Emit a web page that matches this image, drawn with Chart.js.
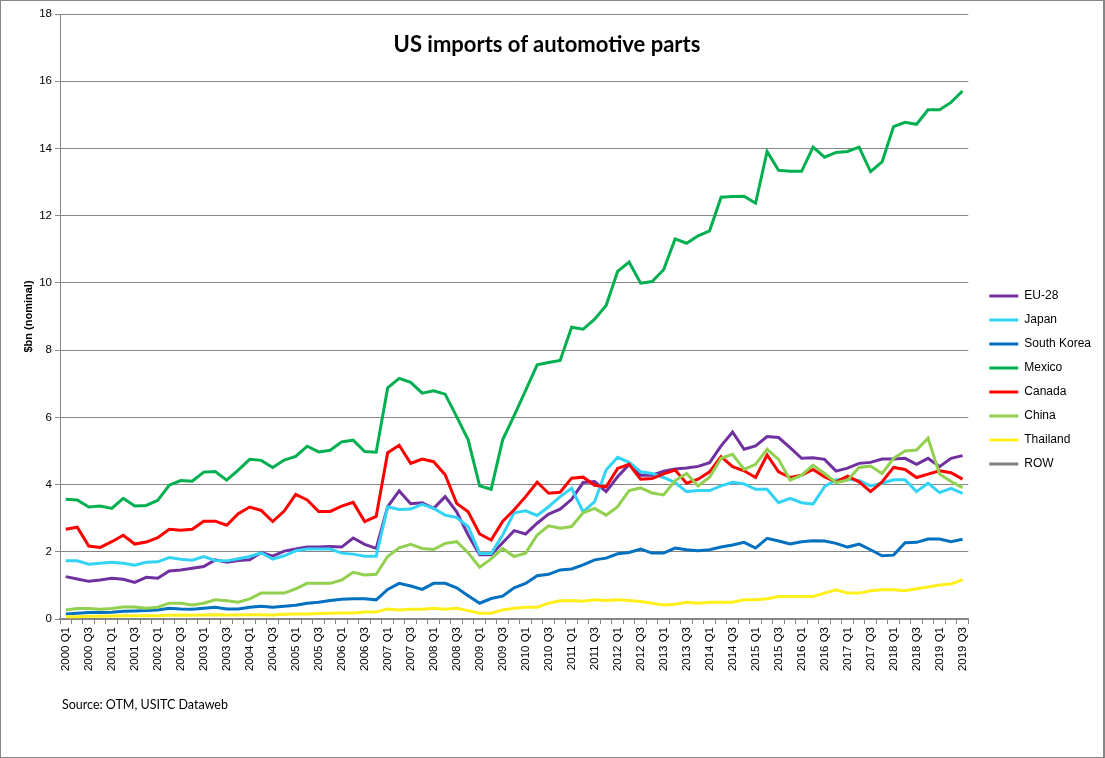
<!DOCTYPE html>
<html>
<head>
<meta charset="utf-8">
<script src="https://cdn.jsdelivr.net/npm/chart.js@4.4.1/dist/chart.umd.min.js"></script>
<style>
  html, body { margin: 0; padding: 0; background: #fff; }
  #wrap { position: relative; width: 1105px; height: 758px; }
  #wrap canvas { position: absolute; left: 0; top: 0; }
  #frame {
    position: absolute; left: 0; top: 0; width: 1105px; height: 758px;
    box-sizing: border-box; border: 1px solid #868686; border-right-width: 2px;
    pointer-events: none;
  }
  #title {
    position: absolute; left: 0; top: 30px; width: 1094px; text-align: center;
    font: bold 22px Lato, "Liberation Sans", sans-serif; color: #000;
  }
  #source {
    position: absolute; left: 62px; top: 697px;
    font: 12.5px Lato, "Liberation Sans", sans-serif; color: #000;
  }
</style>
</head>
<body>
<div id="wrap">
  <canvas id="chart" width="1105" height="758"></canvas>
  <div id="title">US imports of automotive parts</div>
  <div id="source">Source: OTM, USITC Dataweb</div>
  <div id="frame"></div>
</div>
<script>
// quarters 2000 Q1 .. 2019 Q3
const years = [2000, 2001, 2002, 2003, 2004, 2005, 2006, 2007, 2008, 2009,
               2010, 2011, 2012, 2013, 2014, 2015, 2016, 2017, 2018, 2019];
const quarters = [];
years.forEach(y => {
    ["Q1", "Q2", "Q3", "Q4"].forEach(q => {
        if (y === 2019 && q === "Q4") return;
        quarters.push(`${y} ${q}`);
    });
});

const yTicks = [0, 2, 4, 6, 8, 10, 12, 14, 16, 18];

const eu28 = [
    1.26, 1.19, 1.12, 1.16, 1.21, 1.18, 1.09, 1.24, 1.21, 1.43, 1.46, 1.51, 1.56, 1.76, 1.69, 1.74,
    1.76, 1.98, 1.87, 2.02, 2.08, 2.14, 2.14, 2.16, 2.14, 2.41, 2.22, 2.10, 3.34, 3.81, 3.43, 3.46,
    3.29, 3.64, 3.19, 2.50, 1.91, 1.91, 2.27, 2.63, 2.53, 2.85, 3.12, 3.27, 3.56, 4.06, 4.09, 3.79,
    4.23, 4.60, 4.28, 4.28, 4.40, 4.46, 4.49, 4.54, 4.65, 5.15, 5.56, 5.05, 5.15, 5.43, 5.40, 5.10,
    4.78, 4.80, 4.75, 4.40, 4.49, 4.63, 4.66, 4.76, 4.76, 4.78, 4.60, 4.78, 4.53, 4.78, 4.86
];

const japan = [
    1.73, 1.73, 1.63, 1.66, 1.69, 1.66, 1.60, 1.69, 1.70, 1.83, 1.78, 1.75, 1.86, 1.74, 1.73, 1.79,
    1.86, 1.97, 1.78, 1.88, 2.03, 2.08, 2.08, 2.08, 1.96, 1.93, 1.87, 1.87, 3.34, 3.26, 3.27, 3.41,
    3.29, 3.09, 3.02, 2.75, 1.95, 1.95, 2.50, 3.16, 3.22, 3.08, 3.34, 3.64, 3.89, 3.19, 3.49, 4.43,
    4.81, 4.66, 4.38, 4.33, 4.21, 4.06, 3.79, 3.82, 3.82, 3.96, 4.07, 4.02, 3.86, 3.86, 3.46, 3.59,
    3.46, 3.42, 3.94, 4.14, 4.16, 4.12, 3.96, 4.04, 4.14, 4.14, 3.79, 4.04, 3.76, 3.89, 3.74
];

const southKorea = [
    0.15, 0.17, 0.19, 0.19, 0.20, 0.23, 0.24, 0.25, 0.27, 0.32, 0.30, 0.29, 0.32, 0.35, 0.30, 0.30,
    0.35, 0.38, 0.35, 0.38, 0.41, 0.47, 0.50, 0.55, 0.59, 0.60, 0.60, 0.57, 0.88, 1.06, 0.98, 0.88,
    1.06, 1.06, 0.93, 0.69, 0.47, 0.61, 0.68, 0.93, 1.06, 1.29, 1.33, 1.46, 1.49, 1.61, 1.76, 1.81,
    1.94, 1.98, 2.08, 1.96, 1.96, 2.11, 2.06, 2.03, 2.06, 2.14, 2.20, 2.28, 2.11, 2.40, 2.32, 2.23,
    2.30, 2.33, 2.32, 2.25, 2.14, 2.23, 2.06, 1.88, 1.90, 2.27, 2.28, 2.38, 2.38, 2.30, 2.37
];

const mexico = [
    3.56, 3.54, 3.33, 3.36, 3.29, 3.59, 3.36, 3.38, 3.53, 3.98, 4.12, 4.10, 4.37, 4.39, 4.13, 4.43,
    4.75, 4.72, 4.51, 4.73, 4.84, 5.14, 4.97, 5.02, 5.27, 5.32, 4.98, 4.96, 6.88, 7.16, 7.04, 6.72,
    6.79, 6.69, 6.02, 5.33, 3.96, 3.86, 5.33, 6.05, 6.80, 7.56, 7.63, 7.69, 8.68, 8.62, 8.92, 9.33,
    10.34, 10.62, 9.99, 10.04, 10.39, 11.31, 11.18, 11.40, 11.55, 12.55, 12.57, 12.58, 12.37, 13.91, 13.35, 13.32,
    13.32, 14.04, 13.74, 13.88, 13.91, 14.04, 13.31, 13.60, 14.65, 14.78, 14.72, 15.15, 15.15, 15.37, 15.71
];

const canada = [
    2.67, 2.73, 2.17, 2.13, 2.30, 2.49, 2.23, 2.29, 2.42, 2.67, 2.64, 2.67, 2.91, 2.91, 2.79, 3.13,
    3.33, 3.23, 2.90, 3.21, 3.71, 3.54, 3.20, 3.20, 3.36, 3.47, 2.90, 3.05, 4.95, 5.17, 4.63, 4.76,
    4.68, 4.29, 3.44, 3.19, 2.53, 2.35, 2.90, 3.25, 3.64, 4.07, 3.74, 3.77, 4.19, 4.22, 3.98, 3.93,
    4.48, 4.60, 4.16, 4.18, 4.32, 4.43, 4.04, 4.16, 4.38, 4.83, 4.53, 4.41, 4.21, 4.88, 4.38, 4.21,
    4.28, 4.45, 4.23, 4.08, 4.25, 4.08, 3.79, 4.08, 4.51, 4.45, 4.21, 4.31, 4.41, 4.35, 4.16
];

const china = [
    0.27, 0.31, 0.31, 0.29, 0.31, 0.36, 0.36, 0.32, 0.35, 0.47, 0.47, 0.42, 0.47, 0.57, 0.54, 0.50,
    0.60, 0.77, 0.77, 0.77, 0.90, 1.06, 1.06, 1.06, 1.16, 1.39, 1.31, 1.33, 1.86, 2.12, 2.22, 2.10,
    2.07, 2.25, 2.30, 1.97, 1.54, 1.79, 2.10, 1.86, 1.96, 2.50, 2.77, 2.70, 2.75, 3.16, 3.29, 3.09,
    3.34, 3.82, 3.90, 3.75, 3.69, 4.12, 4.33, 3.96, 4.22, 4.78, 4.90, 4.45, 4.60, 5.05, 4.75, 4.13,
    4.28, 4.58, 4.33, 4.06, 4.13, 4.51, 4.55, 4.33, 4.78, 5.00, 5.03, 5.38, 4.31, 4.09, 3.91
];

const thailand = [
    0.07, 0.07, 0.08, 0.08, 0.09, 0.10, 0.10, 0.10, 0.10, 0.11, 0.12, 0.11, 0.12, 0.13, 0.12, 0.12,
    0.13, 0.13, 0.12, 0.14, 0.15, 0.15, 0.16, 0.17, 0.18, 0.18, 0.21, 0.21, 0.30, 0.27, 0.29, 0.29,
    0.32, 0.29, 0.32, 0.25, 0.17, 0.17, 0.27, 0.32, 0.35, 0.35, 0.47, 0.54, 0.55, 0.53, 0.57, 0.55,
    0.57, 0.55, 0.52, 0.47, 0.42, 0.44, 0.50, 0.47, 0.50, 0.50, 0.50, 0.57, 0.57, 0.60, 0.67, 0.67,
    0.67, 0.67, 0.77, 0.87, 0.77, 0.77, 0.84, 0.87, 0.87, 0.84, 0.90, 0.95, 1.01, 1.04, 1.17
];

// ROW is listed in the legend but has no visible line in the picture
const row = [];

const series = [
    { label: "EU-28", data: eu28, color: "#7030A0" },
    { label: "Japan", data: japan, color: "#33D3F5" },
    { label: "South Korea", data: southKorea, color: "#0070C0" },
    { label: "Mexico", data: mexico, color: "#00B050" },
    { label: "Canada", data: canada, color: "#FF0000" },
    { label: "China", data: china, color: "#92D050" },
    { label: "Thailand", data: thailand, color: "#FFEF1A" },
    { label: "ROW", data: row, color: "#808080" }
];

const axisGrey = "#868686";
const axisFont = { family: "'Liberation Sans', Arial, sans-serif", size: 11.5 };

new Chart(document.getElementById("chart"), {

    type: "line",

    data: {
        labels: quarters,
        datasets: series.map((s, i) => ({
            label: s.label,
            data: s.data,
            borderColor: s.color,
            backgroundColor: s.color,
            borderWidth: 3,
            pointRadius: 0,
            tension: 0,
            fill: false,
            // later series drawn on top, like the original
            order: series.length - i
        }))
    },

    options: {
        responsive: false,
        animation: false,
        devicePixelRatio: 1,
        layout: {
            padding: { top: 14, right: 4, bottom: 12, left: 0 }
        },
        plugins: {
            legend: {
                position: "right",
                labels: {
                    usePointStyle: true,
                    pointStyle: "line",
                    pointStyleWidth: 29,
                    padding: 12,
                    color: "#000",
                    font: { family: "'Liberation Sans', Arial, sans-serif", size: 12 },
                    sort: (a, b) => a.datasetIndex - b.datasetIndex
                }
            },
            tooltip: { enabled: false }
        },
        scales: {
            x: {
                offset: true,
                grid: {
                    offset: true,
                    drawOnChartArea: false,
                    tickLength: 5,
                    color: axisGrey
                },
                border: { color: axisGrey, width: 2 },
                ticks: {
                    autoSkip: false,
                    maxRotation: 90,
                    minRotation: 90,
                    color: "#000",
                    font: axisFont,
                    callback: (v, i) => (i % 2 === 0 ? quarters[i] : "")
                },
                afterFit: scale => { scale.height = 127; }
            },
            y: {
                min: yTicks[0],
                max: yTicks[yTicks.length - 1],
                afterBuildTicks: scale => {
                    scale.ticks = yTicks.map(v => ({ value: v }));
                },
                grid: { color: axisGrey, tickLength: 5 },
                border: { color: axisGrey },
                ticks: { color: "#000", font: axisFont, padding: 3 },
                title: {
                    display: true,
                    text: "$bn (nominal)",
                    color: "#000",
                    font: { family: "'Liberation Sans', Arial, sans-serif", size: 11, weight: "bold" },
                    padding: { top: 22, bottom: 0 }
                },
                afterFit: scale => { scale.width = 60; }
            },
            gap: {
                position: "right",
                display: true,
                grid: { display: false },
                ticks: { display: false },
                border: { display: false },
                afterFit: scale => { scale.width = 9; }
            }
        }
    }

});
</script>
</body>
</html>
